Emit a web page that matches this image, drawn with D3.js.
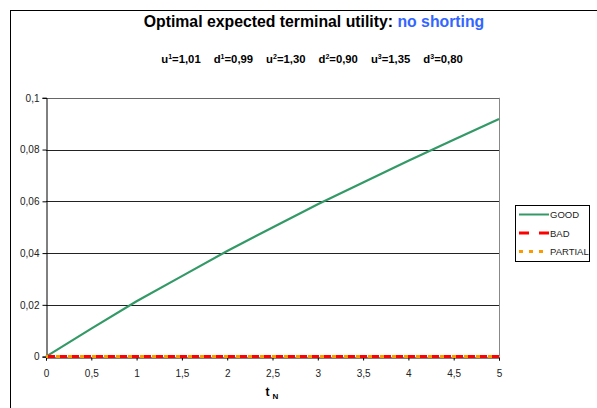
<!DOCTYPE html>
<html><head><meta charset="utf-8">
<script src="https://cdn.jsdelivr.net/npm/d3@7"></script>
<style>body{margin:0;background:#fff}svg{display:block;font-family:"Liberation Sans",Arial,sans-serif}</style>
</head><body>
<svg id="c" width="597" height="408"></svg>
<script>
const tValues = [0,0.5,1,1.5,2,2.5,3,3.5,4,4.5,5];
const good = [0,0.0108,0.0214,0.0311,0.0408,0.0499,0.0589,0.0673,0.0757,0.0838,0.0918];
const bad = [0,0,0,0,0,0,0,0,0,0,0];
const partial = [0,0,0,0,0,0,0,0,0,0,0];
const xTicks = [0,0.5,1,1.5,2,2.5,3,3.5,4,4.5,5];
const yTicks = [0,0.02,0.04,0.06,0.08,0.1];
const seriesNames = ["GOOD","BAD","PARTIAL"];

const svg = d3.select("#c");
const fmt = v => String(v).replace(".", ",");
// outer frame
svg.append("rect").attr("x",10.5).attr("y",10.5).attr("width",620).attr("height",420)
  .attr("fill","none").attr("stroke","#000").attr("stroke-width",1);

const m = {l:46, r:499, t:97.8, b:356.6};
const x = d3.scaleLinear().domain([0,5]).range([m.l,m.r]);
const y = d3.scaleLinear().domain([0,0.1]).range([m.b,m.t]);

// title
const title = svg.append("text").attr("x",314).attr("y",27).attr("text-anchor","middle")
  .attr("font-size",15.8).attr("font-weight","bold");
title.append("tspan").text("Optimal expected terminal utility: ");
title.append("tspan").attr("fill","#3366FF").text("no shorting");

// subtitle with superscripts
const params = [["u","1","1,01"],["d","1","0,99"],["u","2","1,30"],["d","2","0,90"],["u","3","1,35"],["d","3","0,80"]];
const sub = svg.append("text").attr("x",312).attr("y",63).attr("text-anchor","middle")
  .attr("font-size",11.3).attr("font-weight","bold");
params.forEach((p,i)=>{
  sub.append("tspan").attr("dx", i===0?0:13).text(p[0]);
  sub.append("tspan").attr("dy",-4).attr("font-size",7).text(p[1]);
  sub.append("tspan").attr("dy",4).text("="+p[2]);
});

// gridlines
const g = svg.append("g");
g.selectAll("line.grid").data(yTicks.filter(v=>v>0)).join("line")
  .attr("x1",m.l).attr("x2",m.r).attr("y1",d=>Math.round(y(d))+0.5).attr("y2",d=>Math.round(y(d))+0.5)
  .attr("stroke",(d)=> d===0.1 ? "#666" : "#222").attr("stroke-width",1);
// right border
g.append("line").attr("x1",m.r+0.5).attr("x2",m.r+0.5).attr("y1",m.t).attr("y2",m.b).attr("stroke","#888");

// axes
const yAxis = d3.axisLeft(y).tickValues(yTicks).tickFormat(fmt).tickSize(4).tickPadding(3);
const ya = svg.append("g").attr("transform",`translate(${m.l+0.5},0)`).call(yAxis);
ya.select(".domain").attr("stroke","#000");
ya.selectAll("text").attr("font-size",10).attr("fill","#222").attr("font-family","Liberation Sans, Arial");
const xAxis = d3.axisBottom(x).tickValues(xTicks).tickFormat(fmt).tickSize(3).tickPadding(9);
const xa = svg.append("g").attr("transform",`translate(0,${Math.round(m.b)+0.5})`).call(xAxis);
xa.select(".domain").attr("stroke","#000");
xa.selectAll("text").attr("font-size",10).attr("fill","#222").attr("font-family","Liberation Sans, Arial");

// x label
const xl = svg.append("text").attr("x",272).attr("y",396).attr("text-anchor","middle")
  .attr("font-size",12).attr("font-weight","bold");
xl.append("tspan").text("t");
xl.append("tspan").attr("dx",3).attr("dy",3).attr("font-size",8).text("N");

// lines
const line = d3.line().x((d,i)=>x(tValues[i])).y(d=>y(d));
svg.append("path").datum(good).attr("d",line).attr("fill","none").attr("stroke","#339966").attr("stroke-width",2.2);
svg.append("path").datum(bad).attr("d",line).attr("fill","none").attr("stroke","#FF0000").attr("stroke-width",3).attr("stroke-dasharray","9,3");
svg.append("path").datum(partial).attr("d",line).attr("fill","none").attr("stroke","#FF9900").attr("stroke-width",3).attr("stroke-dasharray","4,8").attr("stroke-dashoffset",-10);

// legend
const lg = svg.append("g");
lg.append("rect").attr("x",515.5).attr("y",205.5).attr("width",74).attr("height",56).attr("fill","#fff").attr("stroke","#000");
const styles = [
  {c:"#339966",w:2,da:null},
  {c:"#FF0000",w:3,da:"10,10"},
  {c:"#FF9900",w:3,da:"4,6"}
];
seriesNames.forEach((n,i)=>{
  const yy = 214.5 + i*18.5;
  lg.append("line").attr("x1",519).attr("x2",549).attr("y1",yy).attr("y2",yy)
    .attr("stroke",styles[i].c).attr("stroke-width",styles[i].w).attr("stroke-dasharray",styles[i].da);
  lg.append("text").attr("x",550).attr("y",yy+3.5).attr("font-size",9.5).attr("fill","#222").text(n);
});
</script>
</body></html>
